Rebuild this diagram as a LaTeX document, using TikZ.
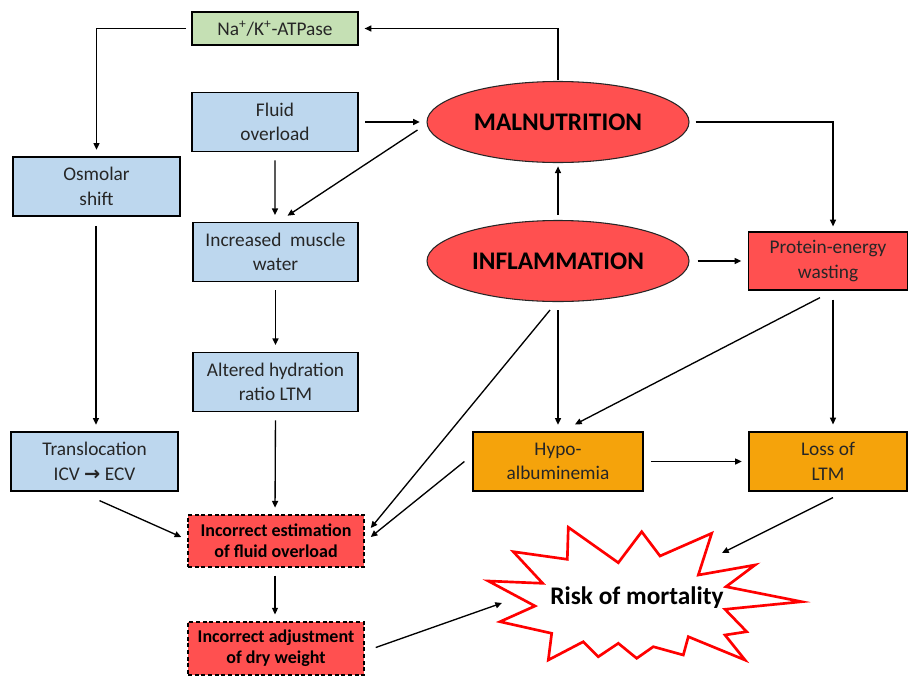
\documentclass[tikz,border=0pt]{standalone}
\usepackage{fontspec}
\setmainfont{Carlito}
\newfontfamily\symfont{DejaVu Sans}
\usetikzlibrary{shapes.geometric,arrows.meta,calc}
\definecolor{boxblue}{HTML}{BDD7EE}
\definecolor{boxgreen}{HTML}{C5E0B4}
\definecolor{boxred}{HTML}{FF5050}
\definecolor{boxorange}{HTML}{F5A30B}
\definecolor{txtgray}{HTML}{262626}
\begin{document}
\begin{tikzpicture}[x=0.75pt,y=-0.75pt,
  box/.style={draw=black, line width=0.9pt, rectangle, align=center, inner sep=0pt,
    text=txtgray, font=\fontsize{14.5}{18.5}\selectfont},
  bluebox/.style={box, fill=boxblue, minimum width=124.5pt, minimum height=44.5pt},
  redbox/.style={box, fill=boxred, minimum width=119.25pt, minimum height=43.5pt},
  orangebox/.style={box, fill=boxorange, minimum height=44.25pt},
  dashbox/.style={box, fill=boxred, text=black, dashed, dash pattern=on 3pt off 2pt,
    line width=1.1pt, minimum width=132pt, font=\bfseries\fontsize{13.5}{16}\selectfont},
  oval/.style={ellipse, draw=black!85, line width=0.8pt, fill=boxred, inner sep=0pt,
    minimum width=196.5pt, minimum height=60.75pt, font=\bfseries\fontsize{19}{20}\selectfont},
  arr/.style={-{Triangle[length=5pt,width=4.5pt]}, line width=1pt}
]
\useasboundingbox (0,0) rectangle (909,675);

% boxes
\node[box, fill=boxgreen, minimum width=124.5pt, minimum height=24.75pt] (na) at (275,28.5)
  {Na\textsuperscript{+}/K\textsuperscript{+}-ATPase};
\node[bluebox] (fluid) at (275,122) {Fluid\\overload};
\node[bluebox, minimum width=125.25pt, minimum height=44.25pt] (osm) at (96.5,186.5) {Osmolar\\shift};
\node[bluebox, minimum width=123.75pt] (imw) at (275.5,252) {Increased\ \ muscle\\water};
\node[bluebox, minimum width=123.75pt] (ahr) at (275.5,382) {Altered hydration\\ratio LTM};
\node[bluebox, minimum width=125.25pt, minimum height=44.25pt] (trans) at (94.5,461.5)
  {Translocation\\ICV {\symfont\bfseries →} ECV};
\node[dashbox, minimum height=39pt] (ie) at (276,541) {Incorrect estimation\\of fluid overload};
\node[dashbox, minimum height=40pt] (ia) at (276,648.5) {Incorrect adjustment\\of dry weight};

\node[oval] (mal) at (558,122) {MALNUTRITION};
\node[oval] (inf) at (558,261) {INFLAMMATION};

\node[redbox] (pew) at (828,261) {Protein-energy\\wasting};
\node[orangebox, minimum width=127.5pt] (hypo) at (558,461.5) {Hypo-\\albuminemia};
\node[orangebox, minimum width=118.5pt] (loss) at (828,461.5) {Loss of\\LTM};

% starburst
\draw[red, line width=2pt, fill=white, line join=miter]
  (488.3,581) -- (542.7,583.3) -- (513.3,551.7) -- (567.3,559.3) -- (568.3,527.3)
  -- (618.3,562.7) -- (641.7,531.7) -- (660,556) -- (711.7,533.3) -- (698.3,575)
  -- (755,565) -- (726,586.7) -- (801.7,601.7) -- (725,609.3) -- (746.7,631.7)
  -- (725,635) -- (745,660) -- (688.3,636.7) -- (683.3,655) -- (653.3,646.7)
  -- (636.7,658.3) -- (618.3,643.3) -- (598.3,656.7) -- (583.3,641.7) -- (548.3,660)
  -- (551.7,633.3) -- (500,621.7) -- (535,606) -- cycle;
\node[font=\bfseries\fontsize{19}{20}\selectfont, text=black] (risk) at (637,598) {Risk of mortality};
\coordinate (starNE) at (722,553);
\coordinate (starW) at (502,603);

% connectors
\draw[arr, shorten <=1pt, shorten >=4.5pt] (mal.north) |- (na.east);
\draw[arr, shorten <=4pt, shorten >=5pt] (na.west) -| (osm.north);
\draw[arr, shorten <=5pt, shorten >=5pt] (fluid.east) -- (mal.west);
\draw[arr] (mal.west) ++(-9,8) -- ($(imw.north)+(12,-6)$);
\draw[arr, shorten <=6pt, shorten >=5pt] (fluid.south) -- ([xshift=-0.4pt]imw.north);
\draw[arr, shorten <=6pt, shorten >=5pt] (imw.south) -- (ahr.north);
\draw[arr, shorten <=6pt, shorten >=5pt] (ahr.south) -- ([xshift=-0.75pt]ie.north);
\draw[arr, shorten <=6pt, shorten >=5pt] ([xshift=-0.75pt]ie.south) -- ([xshift=-0.75pt]ia.north);
\draw[arr, shorten <=7pt, shorten >=5pt] ([xshift=-0.4pt]osm.south) -- ([xshift=1.1pt]trans.north);
\draw[arr] (trans.south) ++(5,9) -- ($(ie.west)+(-6,-4)$);
\draw[arr, shorten <=4.5pt] (mal.east) -| ($(pew.north)+(5,-5)$);
\draw[arr, shorten <=4pt, shorten >=2.5pt] (inf.north) -- (mal.south);
\draw[arr, shorten <=6pt, shorten >=5pt] (inf.east) -- (pew.west);
\draw[arr, shorten <=6pt, shorten >=5pt] (inf.south) -- (hypo.north);
\draw[arr] (inf.south) ++(-8,8) -- ($(ie.east)+(6,-13)$);
\draw[arr] (hypo.west) ++(-8,0) -- ($(ie.east)+(6,-4)$);
\draw[arr] (pew.south) ++(-8,7) -- ($(hypo.north)+(17,-7)$);
\draw[arr] (pew.south) ++(5,9) -- ($(loss.north)+(5,-7)$);
\draw[arr, shorten <=5.5pt, shorten >=5pt] (hypo.east) -- (loss.west);
\draw[arr] (loss.south) ++(5,6) -- (starNE);
\draw[arr] (ia.east) ++(11,-1) -- (starW);
\end{tikzpicture}
\end{document}
